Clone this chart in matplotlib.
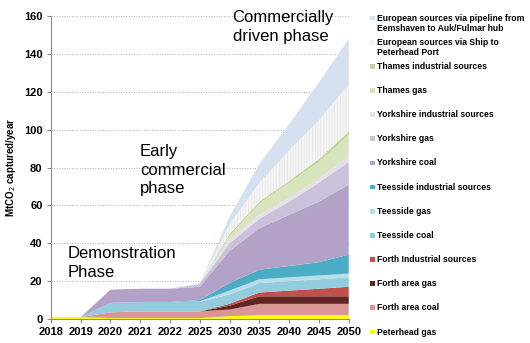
import numpy as np
import matplotlib.pyplot as plt
from matplotlib.patches import Rectangle

plt.rcParams['font.family'] = ['Liberation Sans', 'DejaVu Sans']
plt.rcParams['hatch.color'] = '#e2e2e2'
plt.rcParams['hatch.linewidth'] = 0.4

years = ['2018', '2019', '2020', '2021', '2022', '2025', '2030', '2035', '2040', '2045', '2050']

# MtCO2 captured per year, by source (bottom of stack first)
peterhead_gas   = [1, 1, 0.5, 0.5, 0.5, 0.5, 1.5, 2, 2, 2, 2]
forth_coal      = [0, 0, 3, 3.5, 3.5, 3.5, 3.5, 6, 6, 6, 6]
forth_gas       = [0, 0, 0, 0, 0, 0, 2, 4, 4, 4, 4]
forth_ind       = [0, 0, 0, 0, 0, 0, 1, 2, 3, 4, 5]
teesside_coal   = [0, 0, 5, 5, 5, 5, 5, 5, 5, 5, 5]
teesside_gas    = [0, 0, 0, 0, 0, 0.3, 2, 2, 2, 2, 2]
teesside_ind    = [0, 0, 0, 0, 0, 0.7, 4, 5, 6, 7, 10]
yorkshire_coal  = [0, 0, 7, 7, 7, 7, 17, 22, 27, 32, 37]
yorkshire_gas   = [0, 0, 0, 0, 0, 1.5, 4, 5, 7, 10, 12]
yorkshire_ind   = [0, 0, 0, 0, 0, 0.5, 2, 2, 2, 2, 3]
thames_gas      = [0, 0, 0, 0, 0, 0, 2, 6, 8, 9, 11]
thames_ind      = [0, 0, 0, 0, 0, 0, 1, 1, 1, 1.5, 2]
euro_ship       = [0, 0, 0, 0, 0, 0, 5, 10, 16, 20.5, 25]
euro_pipeline   = [0, 0, 0, 0, 0, 0, 4, 10, 14, 20, 24]

series = [peterhead_gas, forth_coal, forth_gas, forth_ind, teesside_coal,
          teesside_gas, teesside_ind, yorkshire_coal, yorkshire_gas,
          yorkshire_ind, thames_gas, thames_ind, euro_ship, euro_pipeline]
labels = ['Peterhead gas', 'Forth area coal', 'Forth area gas',
          'Forth Industrial sources', 'Teesside coal', 'Teesside gas',
          'Teesside industrial sources', 'Yorkshire coal', 'Yorkshire gas',
          'Yorkshire industrial sources', 'Thames gas',
          'Thames industrial sources',
          'European sources via Ship to\nPeterhead Port',
          'European sources via pipeline from\nEemshaven to Auk/Fulmar hub']
colors = ['#ffff00', '#d99694', '#632523', '#c0504d', '#93cddd', '#b7dee8',
          '#4bacc6', '#b3a2c7', '#ccc1da', '#e6e0ec', '#d7e4bd', '#c3d69b',
          '#f4f4f4', '#d5e1f0']

fig = plt.figure(figsize=(5.3, 3.43), dpi=100)
ax = fig.add_axes([0.096, 0.07, 0.562, 0.883])

x = np.arange(len(years))
polys = ax.stackplot(x, *series, colors=colors, linewidth=0)
polys[12].set_hatch('||||||')

ax.set_xlim(0, len(years) - 1)
ax.set_ylim(0, 160)
ax.set_yticks(range(0, 161, 20))
ax.set_xticks(x)
ax.set_xticklabels(years)
ax.tick_params(labelsize=8, length=3, color='#888888', pad=3)
for t in ax.get_xticklabels() + ax.get_yticklabels():
    t.set_fontweight('bold')
ax.yaxis.grid(True, linestyle=':', color='#aaaaaa', linewidth=0.7)
ax.set_axisbelow(True)
for s in ['top', 'right']:
    ax.spines[s].set_visible(False)
for s in ['left', 'bottom']:
    ax.spines[s].set_color('#888888')
ax.set_ylabel('MtCO$_2$ captured/year', fontsize=7, fontweight='bold', labelpad=4)

# phase annotations
ax.text(0.57, 29.5, 'Demonstration\nPhase', fontsize=12, va='center', linespacing=1.3)
ax.text(2.99, 78.7, 'Early\ncommercial\nphase', fontsize=12, va='center', linespacing=1.3)
ax.text(6.1, 154.4, 'Commercially\ndriven phase', fontsize=12, va='center', linespacing=1.3)

# legend, top entry first; marker sits on the first line of each label
ys = np.linspace(1 - 18 / 343, 1 - 332 / 343, len(labels))
for lab, col, yy in zip(labels[::-1], colors[::-1], ys):
    fig.patches.append(Rectangle((0.698, yy - 0.007), 0.009, 0.014,
                                 transform=fig.transFigure, facecolor=col,
                                 edgecolor='none'))
    fig.text(0.712, yy + 0.013, lab, fontsize=6.2, fontweight='bold', va='top',
             linespacing=1.15)

fig.savefig('out.png', dpi=100)
